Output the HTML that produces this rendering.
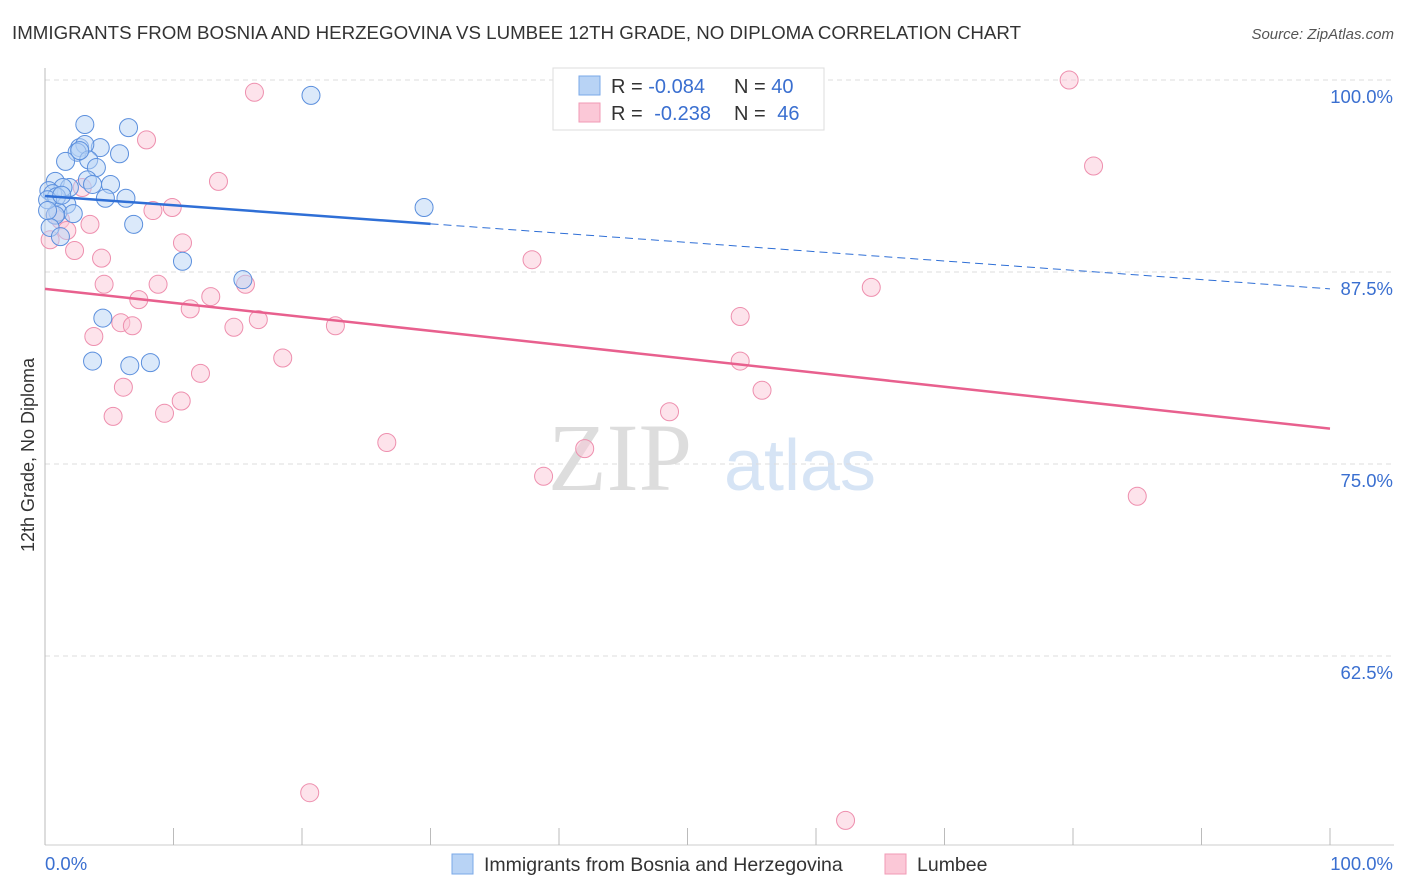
<!DOCTYPE html>
<html><head><meta charset="utf-8">
<style>
body{margin:0;background:#fff;font-family:"Liberation Sans",sans-serif;}
#wrap{position:relative;width:1406px;height:892px;overflow:hidden;}
</style></head>
<body>
<div id="wrap">
<svg id="svg" width="1406" height="892" xmlns="http://www.w3.org/2000/svg">
<text x="12" y="39" font-size="18" fill="#333" textLength="1009" lengthAdjust="spacingAndGlyphs">IMMIGRANTS FROM BOSNIA AND HERZEGOVINA VS LUMBEE 12TH GRADE, NO DIPLOMA CORRELATION CHART</text>
<text x="1394" y="39" font-size="15" fill="#555" font-style="italic" text-anchor="end">Source: ZipAtlas.com</text>
<text x="620" y="490" font-size="96" fill="#ddd" font-family="Liberation Serif" text-anchor="middle">ZIP</text>
<text x="800" y="490" font-size="72" fill="#d6e4f5" text-anchor="middle">atlas</text>
<text transform="translate(34,455) rotate(-90)" font-size="18" fill="#333" text-anchor="middle">12th Grade, No Diploma</text>
<g id="grid"></g><g id="marks"></g>
<g>
<rect x="553" y="68" width="271" height="62" fill="#fff" stroke="#ddd"/>
<rect x="579" y="76" width="21" height="19" fill="#b8d3f5" stroke="#7aa8e8"/>
<rect x="579" y="103" width="21" height="19" fill="#fbc8d7" stroke="#f09ab5"/>
<text x="611" y="93" font-size="20" fill="#333">R = <tspan fill="#3a6fd0">-0.084</tspan><tspan x="734">N = </tspan><tspan fill="#3a6fd0">40</tspan></text>
<text x="611" y="120" font-size="20" fill="#333">R = <tspan fill="#3a6fd0" dx="6">-0.238</tspan><tspan x="734">N = </tspan><tspan fill="#3a6fd0" dx="6">46</tspan></text>
</g>
<g>
<rect x="452" y="854" width="21" height="20" fill="#b8d3f5" stroke="#7aa8e8"/>
<text x="484" y="871" font-size="19.5" fill="#333">Immigrants from Bosnia and Herzegovina</text>
<rect x="885" y="854" width="21" height="20" fill="#fbc8d7" stroke="#f09ab5"/>
<text x="917" y="871" font-size="19.5" fill="#333">Lumbee</text>
</g>
</svg>
</div>
<script>
const yTicks=[100,87.5,75,62.5];
const yTickLabels=["100.0%","87.5%","75.0%","62.5%"];
const blueX=[20.7,3.1,6.5,4.3,2.7,3.1,2.5,5.8,3.4,1.6,4.0,3.3,0.8,5.1,3.7,1.9,1.4,0.3,0.6,6.3,4.7,1.7,0.9,1.0,2.2,0.8,29.5,6.9,0.4,1.2,10.7,15.4,4.5,3.7,6.6,8.2,0.2,1.3,2.7,0.2];
const blueY=[99.0,97.1,96.9,95.6,95.6,95.8,95.3,95.2,94.8,94.7,94.3,93.5,93.4,93.2,93.2,93.0,93.0,92.8,92.6,92.3,92.3,91.9,92.4,91.4,91.3,91.2,91.7,90.6,90.4,89.8,88.2,87.0,84.5,81.7,81.4,81.6,92.2,92.5,95.4,91.5];
const pinkX=[16.3,79.7,7.9,81.6,13.5,2.9,8.4,9.9,1.2,3.5,1.7,0.4,10.7,2.3,4.4,37.9,4.6,8.8,15.6,64.3,7.3,12.9,11.3,54.1,16.6,5.9,6.8,14.7,22.6,3.8,18.5,54.1,12.1,55.8,6.1,10.6,5.3,9.3,48.6,26.6,42.0,38.8,85.0,20.6,62.3,0.8];
const pinkY=[99.2,100.0,96.1,94.4,93.4,93.0,91.5,91.7,90.9,90.6,90.2,89.6,89.4,88.9,88.4,88.3,86.7,86.7,86.7,86.5,85.7,85.9,85.1,84.6,84.4,84.2,84.0,83.9,84.0,83.3,81.9,81.7,80.9,79.8,80.0,79.1,78.1,78.3,78.4,76.4,76.0,74.2,72.9,53.6,51.8,91.2];
const blueTrend=[92.45,86.4];
const pinkTrend=[86.4,77.3];
const NS="http://www.w3.org/2000/svg";
const X=v=>45+v*12.85, Y=v=>80+(100-v)*15.36;
function mk(t,a,p){const e=document.createElementNS(NS,t);for(const k in a)e.setAttribute(k,a[k]);p.appendChild(e);return e;}
const grid=document.getElementById('grid'),marks=document.getElementById('marks');
yTicks.forEach((t,i)=>{
 const l=mk('line',{x1:45,x2:1394,y1:Y(t),y2:Y(t),stroke:'#ddd','stroke-dasharray':'5,4'},grid);
 
 
 const tx=mk('text',{x:1393,y:Y(t)+23,'font-size':18.5,fill:'#3a6fd0','text-anchor':'end'},grid);tx.textContent=yTickLabels[i];
 
 
});
let ax=mk('line',{x1:45,x2:45,y1:68,y2:845,stroke:'#bbb'},grid);


ax=mk('line',{x1:45,x2:1394,y1:845,y2:845,stroke:'#ccc'},grid);


for(let i=0;i<=10;i++){const t=mk('line',{x1:X(i*10),x2:X(i*10),y1:828,y2:845,stroke:'#bbb'},grid);
 
 }
[["0.0%",45,"start"],["100.0%",1393,"end"]].forEach(a=>{const t=mk('text',{x:a[1],y:870,'font-size':18.5,fill:'#3a6fd0','text-anchor':a[2]},grid);t.textContent=a[0];
 
 });
function pts(xs,ys,fill,stroke,name){xs.forEach((x,i)=>{const c=mk('circle',{cx:X(x),cy:Y(ys[i]),r:9,fill:fill,'fill-opacity':0.5,stroke:stroke,'stroke-width':1},marks);
 
 });}
pts(pinkX,pinkY,'#fbc8d7','#ee8fae','lumbee-point');
pts(blueX,blueY,'#b8d3f5','#5b8fdd','bosnia-point');
const bAt=v=>blueTrend[0]+(blueTrend[1]-blueTrend[0])*v/100;
let l=mk('line',{x1:X(0),y1:Y(bAt(0)),x2:X(30),y2:Y(bAt(30)),stroke:'#2f6fd6','stroke-width':2.5},marks);


l=mk('line',{x1:X(30),y1:Y(bAt(30)),x2:X(100),y2:Y(bAt(100)),stroke:'#2f6fd6','stroke-width':1,'stroke-dasharray':'8,5'},marks);


l=mk('line',{x1:X(0),y1:Y(pinkTrend[0]),x2:X(100),y2:Y(pinkTrend[1]),stroke:'#e8608e','stroke-width':2.5},marks);


</script>
</body></html>
